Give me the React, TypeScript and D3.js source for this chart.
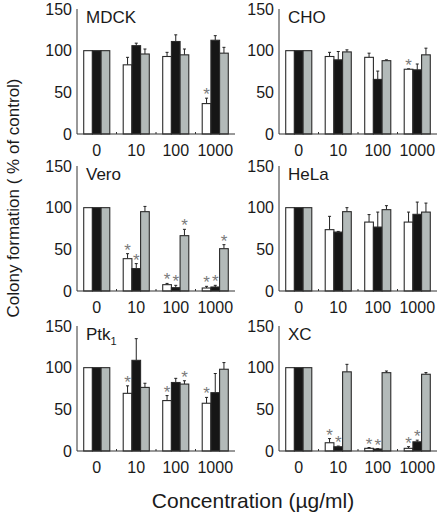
import * as d3 from 'd3';

const concentrations = ['0', '10', '100', '1000'];
const seriesKeys = ['white', 'black', 'gray'];

// mean colony formation (% of control), one row per series
const mdckMean = [[100, 83, 93, 36.5], [100, 106, 111, 112.5], [100, 96, 95, 97]];
const mdckErr = [[0, 9, 5, 6.5], [0, 3, 8, 5.5], [0, 6, 7, 7]];
const mdckSig = [[0, 0, 0, 1], [0, 0, 0, 0], [0, 0, 0, 0]];

const choMean = [[100, 93, 92, 77.7], [100, 89, 65.5, 77], [100, 98.5, 88, 95]];
const choErr = [[0, 5, 5, 0.5], [0, 10, 10, 7], [0, 2.5, 1, 8]];
const choSig = [[0, 0, 0, 1], [0, 0, 0, 0], [0, 0, 0, 0]];

const veroMean = [[100, 38.8, 7.6, 3.6], [100, 26.9, 4, 4.8], [100, 95.2, 66.4, 50.8]];
const veroErr = [[0, 6, 1.5, 2], [0, 6, 2.8, 2], [0, 6.3, 7.6, 4.8]];
const veroSig = [[0, 1, 1, 1], [0, 1, 1, 1], [0, 0, 1, 1]];

const helaMean = [[100, 73.6, 82.7, 82.7], [100, 70.7, 76.7, 92], [100, 95.2, 97.6, 94.7]];
const helaErr = [[0, 16, 9, 12], [0, 0.8, 18, 14.7], [0, 4.8, 4.8, 10.8]];
const helaSig = [[0, 0, 0, 0], [0, 0, 0, 0], [0, 0, 0, 0]];

const ptkMean = [[100, 69.2, 60.5, 57.3], [100, 108.8, 82.2, 70], [100, 76.3, 80.3, 98.1]];
const ptkErr = [[0, 9, 6, 7], [0, 26, 5, 23], [0, 5, 4, 8]];
const ptkSig = [[0, 1, 1, 1], [0, 0, 0, 0], [0, 0, 1, 0]];

const xcMean = [[100, 9.9, 3.2, 3.2], [100, 5.1, 2.4, 11], [100, 95, 94, 92.1]];
const xcErr = [[0, 5, 1, 2], [0, 0.8, 0.5, 2], [0, 9, 2, 2]];
const xcSig = [[0, 1, 1, 1], [0, 1, 1, 1], [0, 0, 0, 0]];

const yTicks = [0, 50, 100, 150];

const FILL: Record<string, string> = { white: '#ffffff', black: '#161616', gray: '#b3bab9' };
const FONT = 'Arial, "Liberation Sans", Helvetica, sans-serif';

const PANEL_W = 158;
const PANEL_H = 125;
const COL_X = [77, 279];
const ROW_Y = [9, 166, 326];

interface PanelProps {
  title: string;
  sub?: string;
  mean: number[][];
  err: number[][];
  sig: number[][];
  left: number;
  top: number;
}

function Panel({ title, sub, mean, err, sig, left, top }: PanelProps) {
  const x0 = d3.scaleBand<string>().domain(concentrations).range([0, PANEL_W])
    .paddingInner(0.34).paddingOuter(0.17);
  const x1 = d3.scaleBand<string>().domain(seriesKeys).range([0, x0.bandwidth()]);
  const y = d3.scaleLinear().domain([0, 150]).range([PANEL_H, 0]);
  const step = x0.step();

  return (
    <g transform={`translate(${left},${top})`}>
      {seriesKeys.map((s, si) =>
        concentrations.map((c, ci) => {
          const v = mean[si][ci];
          const e = err[si][ci];
          const bx = (x0(c) ?? 0) + (x1(s) ?? 0);
          const cx = bx + x1.bandwidth() / 2;
          const top2 = y(v + e);
          return (
            <g key={`${s}-${c}`}>
              {e > 0 && (
                <g stroke="#222" strokeWidth={1}>
                  <line x1={cx} x2={cx} y1={y(v)} y2={top2} />
                  <line x1={cx - 1.5} x2={cx + 1.5} y1={top2} y2={top2} />
                </g>
              )}
              <rect x={bx} y={y(v)} width={x1.bandwidth()} height={PANEL_H - y(v)}
                fill={FILL[s]} stroke="#2a2a2a" strokeWidth={1.1} />
              {sig[si][ci] === 1 && (
                <text x={cx} y={top2 + 2} textAnchor="middle" fontSize={17}
                  fill="#7a7a7a" fontFamily={FONT}>*</text>
              )}
            </g>
          );
        })
      )}
      {/* axes */}
      <line x1={0} x2={0} y1={0} y2={PANEL_H} stroke="#333" strokeWidth={1} />
      <line x1={0} x2={PANEL_W} y1={PANEL_H} y2={PANEL_H} stroke="#333" strokeWidth={1} />
      {concentrations.slice(1).map((c) => (
        <line key={c} x1={(x0(c) ?? 0) - step * 0.17} x2={(x0(c) ?? 0) - step * 0.17}
          y1={PANEL_H} y2={PANEL_H - 2} stroke="#333" />
      ))}
      {yTicks.map((t) => (
        <text key={t} x={-5} y={y(t)} dy="0.36em" textAnchor="end" fontSize={16}
          fill="#1a1a1a" fontFamily={FONT}>{t}</text>
      ))}
      {concentrations.map((c) => (
        <text key={c} x={(x0(c) ?? 0) + x0.bandwidth() / 2} y={PANEL_H + 22} textAnchor="middle"
          fontSize={16} fill="#1a1a1a" fontFamily={FONT}>{c}</text>
      ))}
      <text x={9} y={14} fontSize={17} fill="#1a1a1a" fontFamily={FONT}>
        {title}
        {sub && <tspan fontSize={11} dy={5}>{sub}</tspan>}
      </text>
    </g>
  );
}

export default function App() {
  return (
    <svg width={442} height={520} style={{ position: 'absolute', left: 0, top: 0, background: '#fff' }}>
      <Panel title="MDCK" mean={mdckMean} err={mdckErr} sig={mdckSig} left={COL_X[0]} top={ROW_Y[0]} />
      <Panel title="CHO" mean={choMean} err={choErr} sig={choSig} left={COL_X[1]} top={ROW_Y[0]} />
      <Panel title="Vero" mean={veroMean} err={veroErr} sig={veroSig} left={COL_X[0]} top={ROW_Y[1]} />
      <Panel title="HeLa" mean={helaMean} err={helaErr} sig={helaSig} left={COL_X[1]} top={ROW_Y[1]} />
      <Panel title="Ptk" sub="1" mean={ptkMean} err={ptkErr} sig={ptkSig} left={COL_X[0]} top={ROW_Y[2]} />
      <Panel title="XC" mean={xcMean} err={xcErr} sig={xcSig} left={COL_X[1]} top={ROW_Y[2]} />
      <text transform="translate(19,198) rotate(-90)" textAnchor="middle" fontSize={17}
        fill="#1a1a1a" fontFamily={FONT}>Colony formation ( % of control)</text>
      <text x={253} y={508} textAnchor="middle" fontSize={21} fill="#1a1a1a"
        fontFamily={FONT}>Concentration (µg/ml)</text>
    </svg>
  );
}
